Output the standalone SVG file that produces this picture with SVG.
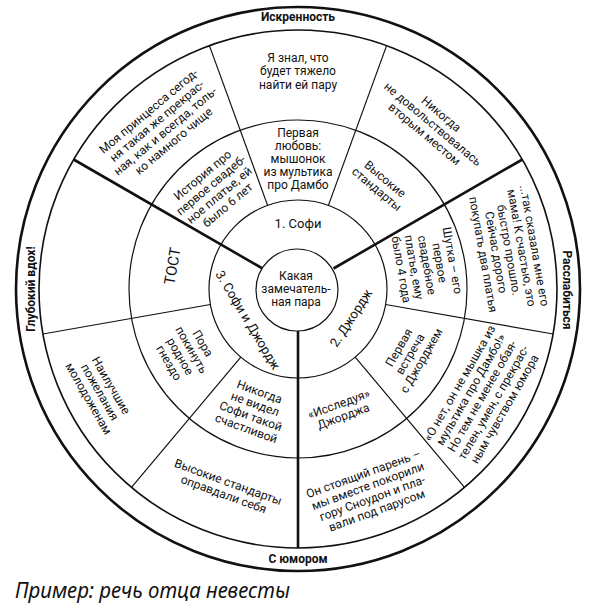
<svg xmlns="http://www.w3.org/2000/svg" width="590" height="610" viewBox="0 0 590 610">
<style>
.ring{fill:none;stroke:#111}
.thin{stroke:#111;stroke-width:1.2;fill:none}
.spoke{stroke:#111;stroke-width:2.6;fill:none}
.t{font-family:Roboto,"Noto Sans","DejaVu Sans",sans-serif;font-size:12px;fill:#111;text-anchor:middle}
.lab{font-family:Roboto,"Noto Sans","DejaVu Sans",sans-serif;font-size:12px;font-weight:bold;fill:#111;text-anchor:middle}
.cap{font-family:"Noto Sans","Open Sans","DejaVu Sans",sans-serif;font-size:21px;font-style:italic;fill:#111}
</style>
<rect width="590" height="610" fill="#fff"/>
<g id="frame">
<circle class="ring" cx="298" cy="289" r="282" stroke-width="2.6"/>
<circle class="ring" cx="298" cy="289" r="259" stroke-width="1.6"/>
<circle class="ring" cx="298" cy="289" r="169" stroke-width="1.2"/>
<circle class="ring" cx="298" cy="289" r="89" stroke-width="1.2"/>
<circle class="ring" cx="297" cy="290" r="41" stroke-width="1.2"/>
</g>
<g id="connectors">
<line class="spoke" x1="262.5" y1="268.5" x2="73.7" y2="159.5"/>
<line class="spoke" x1="333.5" y1="268.5" x2="522.3" y2="159.5"/>
<line class="spoke" x1="298" y1="331" x2="298" y2="548"/>
<line class="thin" x1="267.6" y1="205.4" x2="209.4" y2="45.6"/>
<line class="thin" x1="328.4" y1="205.4" x2="386.6" y2="45.6"/>
<line class="thin" x1="385.6" y1="304.5" x2="553.1" y2="334"/>
<line class="thin" x1="355.2" y1="357.2" x2="464.5" y2="487.4"/>
<line class="thin" x1="210.4" y1="304.5" x2="42.9" y2="334"/>
<line class="thin" x1="240.8" y1="357.2" x2="131.5" y2="487.4"/>
</g>
<g id="labels">
<text class="lab" x="298" y="21">Искренность</text>
<text class="lab" x="298" y="563">С юмором</text>
<text class="lab" transform="translate(35,289) rotate(-90)" x="0" y="0">Глубокий вдох!</text>
<text class="lab" transform="translate(563,290) rotate(90)" x="0" y="0">Расслабиться</text>
</g>
<g id="center">
<text class="t" font-size="12.5"><tspan x="296" y="280">Какая</tspan><tspan x="296" y="293">замечатель-</tspan><tspan x="296" y="306">ная пара</tspan></text>
</g>
<g id="sofi">
<text class="t" style="font-size:13px" x="298" y="228">1. Софи</text>
</g>
<g id="george">
<text class="t" style="font-size:13px" transform="translate(351,318) rotate(-57)" x="0" y="4.5">2. Джордж</text>
</g>
<g id="both">
<text class="t" style="font-size:13px" transform="translate(248,320) rotate(59)" x="0" y="4.5">3. Софи и Джордж</text>
</g>
<g id="c-znal">
<text class="t"><tspan x="298" y="61.5">Я знал, что</tspan><tspan x="298" y="75">будет тяжело</tspan><tspan x="298" y="88.5">найти ей пару</tspan></text>
</g>
<g id="c-princess" transform="translate(161,126) rotate(-40)">
<text class="t"><tspan x="0" y="-15.3">Моя принцесса сегод-</tspan><tspan x="0" y="-2.3">ня такая же прекрас-</tspan><tspan x="0" y="10.7">ная, как и всегда, толь-</tspan><tspan x="0" y="23.7">ко намного чище</tspan></text>
</g>
<g id="c-nikogda" transform="translate(433,124) rotate(40)">
<text class="t"><tspan x="0" y="-8.8">Никогда</tspan><tspan x="0" y="4.2">не довольствовалась</tspan><tspan x="0" y="17.2">вторым местом</tspan></text>
</g>
<g id="c-lubov">
<text class="t"><tspan x="298" y="137">Первая</tspan><tspan x="298" y="150">любовь:</tspan><tspan x="298" y="163">мышонок</tspan><tspan x="298" y="176">из мультика</tspan><tspan x="298" y="189">про Дамбо</tspan></text>
</g>
<g id="c-istoria" transform="translate(215,190) rotate(-40)">
<text class="t"><tspan x="0" y="-15.3">История про</tspan><tspan x="0" y="-2.3">первое свадеб-</tspan><tspan x="0" y="10.7">ное платье, ей</tspan><tspan x="0" y="23.7">было 6 лет</tspan></text>
</g>
<g id="c-standarty" transform="translate(381,184) rotate(40)">
<text class="t"><tspan x="0" y="-2.3">Высокие</tspan><tspan x="0" y="10.7">стандарты</tspan></text>
</g>
<g id="c-mama" transform="translate(509,250) rotate(80)">
<text class="t"><tspan x="0" y="-21.8">...так сказала мне его</tspan><tspan x="0" y="-8.8">мама! К счастью, это</tspan><tspan x="0" y="4.2">быстро прошло.</tspan><tspan x="0" y="17.2">Сейчас дорого</tspan><tspan x="0" y="30.2">покупать два платья</tspan></text>
</g>
<g id="c-shutka" transform="translate(427,265) rotate(80)">
<text class="t"><tspan x="0" y="-21.8">Шутка – его</tspan><tspan x="0" y="-8.8">первое</tspan><tspan x="0" y="4.2">свадебное</tspan><tspan x="0" y="17.2">платье, ему</tspan><tspan x="0" y="30.2">было 4 года</tspan></text>
</g>
<g id="c-vstrecha" transform="translate(410,354) rotate(-60)">
<text class="t"><tspan x="0" y="-8.8">Первая</tspan><tspan x="0" y="4.2">встреча</tspan><tspan x="0" y="17.2">с Джорджем</tspan></text>
</g>
<g id="c-onet" transform="translate(482,396) rotate(-60)">
<text class="t"><tspan x="0" y="-21.8">«О нет, он не мышка из</tspan><tspan x="0" y="-8.8">мультика про Дамбо!»</tspan><tspan x="0" y="4.2">Но тем не менее обая-</tspan><tspan x="0" y="17.2">телен, умен, с прекрас-</tspan><tspan x="0" y="30.2">ным чувством юмора</tspan></text>
</g>
<g id="c-issleduya" transform="translate(341,410) rotate(-20)">
<text class="t"><tspan x="0" y="-2.3">«Исследуя»</tspan><tspan x="0" y="10.7">Джорджа</tspan></text>
</g>
<g id="c-stoyashchiy" transform="translate(370,492) rotate(-20)">
<text class="t"><tspan x="0" y="-15.3">Он стоящий парень –</tspan><tspan x="0" y="-2.3">мы вместе покорили</tspan><tspan x="0" y="10.7">гору Сноудон и пла-</tspan><tspan x="0" y="23.7">вали под парусом</tspan></text>
</g>
<g id="c-nevidel" transform="translate(253,410) rotate(20)">
<text class="t"><tspan x="0" y="-15.3">Никогда</tspan><tspan x="0" y="-2.3">не видел</tspan><tspan x="0" y="10.7">Софи такой</tspan><tspan x="0" y="23.7">счастливой</tspan></text>
</g>
<g id="c-opravdali" transform="translate(226,488) rotate(20)">
<text class="t"><tspan x="0" y="-2.3">Высокие стандарты</tspan><tspan x="0" y="10.7">оправдали себя</tspan></text>
</g>
<g id="c-pora" transform="translate(186,353) rotate(60)">
<text class="t"><tspan x="0" y="-15.3">Пора</tspan><tspan x="0" y="-2.3">покинуть</tspan><tspan x="0" y="10.7">родное</tspan><tspan x="0" y="23.7">гнездо</tspan></text>
</g>
<g id="c-nailuchshie" transform="translate(100,392) rotate(60)">
<text class="t"><tspan x="0" y="-8.8">Наилучшие</tspan><tspan x="0" y="4.2">пожелания</tspan><tspan x="0" y="17.2">молодоженам</tspan></text>
</g>
<g id="c-tost" transform="translate(172,266) rotate(-80)">
<text class="t" style="font-size:15px" x="0" y="5.5">ТОСТ</text>
</g>
<text class="cap" x="15" y="598" textLength="275" lengthAdjust="spacingAndGlyphs">Пример: речь отца невесты</text>
</svg>
